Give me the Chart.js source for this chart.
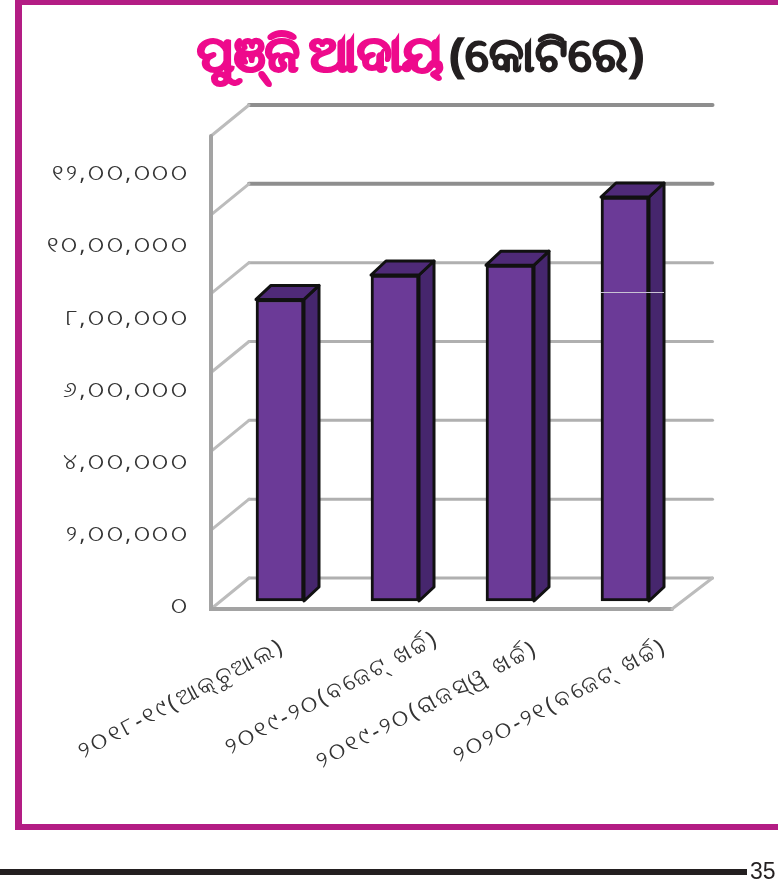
<!DOCTYPE html>
<html>
<head>
<meta charset="utf-8">
<title>ପୁଞ୍ଜି ଆଦାୟ</title>
<script src="https://cdn.jsdelivr.net/npm/chart.js@4"></script>
<style>
html, body { margin: 0; padding: 0; background: #fff; overflow: hidden; }
#page { position: relative; width: 778px; height: 879px; overflow: hidden; font-family: "Noto Sans", "DejaVu Sans", sans-serif; }
#frame { position: absolute; left: 15px; top: -2px; width: 800px; height: 819px; border: 7px solid #b31d84; border-bottom-width: 6px; box-sizing: content-box; }
#title { position: absolute; left: 197px; top: 20px; text-align: left; font-size: 47px; font-weight: 700; line-height: 64px; white-space: nowrap; color: #231f20; word-spacing: -6px; -webkit-text-stroke: 1.4px #231f20; }
#title b { color: #ee0a8c; font-size: 50px; -webkit-text-stroke: 2.6px #ee0a8c; word-spacing: -4px; }
#rule { position: absolute; left: 0; top: 869px; width: 747px; height: 6px; background: #231f20; }
#pageno { position: absolute; left: 750px; top: 858px; font: 23px "Liberation Sans", sans-serif; color: #231f20; }
canvas { position: absolute; left: 0; top: 0; }
</style>
</head>
<body>
<div id="page">
  <div id="frame"></div>
  <canvas id="capitalChart" width="778" height="879"></canvas>
  <div id="title"><b>ପୁଞ୍ଜି ଆଦାୟ</b> (କୋଟିରେ)</div>
  <div id="rule"></div>
  <div id="pageno">35</div>
</div>
<script>
const categories = ['୨୦୧୮-୧୯(ଆକ୍ଚୁଆଲ)', '୨୦୧୯-୨୦(ବଜେଟ୍ ଖର୍ଚ୍ଚ)', '୨୦୧୯-୨୦(ରାଜସ୍ୱ ଖର୍ଚ୍ଚ)', '୨୦୨୦-୨୧(ବଜେଟ୍ ଖର୍ଚ୍ଚ)'];
const receipts = [765000, 827000, 852000, 1025000];
const tickValues = [0, 200000, 400000, 600000, 800000, 1000000, 1200000];
const tickLabels = ['୦', '୨,୦୦,୦୦୦', '୪,୦୦,୦୦୦', '୬,୦୦,୦୦୦', '୮,୦୦,୦୦୦', '୧୦,୦୦,୦୦୦', '୧୨,୦୦,୦୦୦'];
// the rotated labels in the print are not anchored evenly under their bars
const labelNudgeX = [3, 42, 26, 40];
const labelNudgeY = [-5, -13, -3, -5];
// thin light scratch across the last bar in the print
const seamValue = 784000;

// fake 3D: walls and bar depth are offset from the real scale positions
const depth3d = {
    id: 'depth3d',
    beforeDraw(chart) {
        chart.ctx.letterSpacing = '2.6px';
        const items = chart.scales.x.getLabelItems();
        items.forEach((item, i) => {
            if (item.nudged) return;
            item.options.translation[0] += labelNudgeX[i];
            item.options.translation[1] += labelNudgeY[i];
            item.nudged = true;
        });
    },
    beforeDatasetsDraw(chart) {
        const { ctx, chartArea, scales } = chart;
        const y = scales.y;
        const fx = chartArea.left - 11.5, bx = chartArea.left + 26.5;
        const fr = chartArea.right - 10.5, br = chartArea.right + 30;
        const base = y.getPixelForValue(0);
        ctx.save();
        ctx.lineCap = 'round';
        tickValues.forEach((v, i) => {
            const py = y.getPixelForValue(v);
            ctx.strokeStyle = i >= 5 ? '#8e8e8e' : '#b0b0b0';
            ctx.lineWidth = i >= 5 ? 4 : 3;
            ctx.beginPath();
            ctx.moveTo(bx, py - 23);
            ctx.lineTo(br, py - 23);
            ctx.stroke();
            ctx.strokeStyle = '#bcbcbc';
            ctx.lineWidth = 3;
            ctx.beginPath();
            ctx.moveTo(fx, py + 8);
            ctx.lineTo(bx, py - 23);
            ctx.stroke();
        });
        ctx.strokeStyle = '#a3a3a3';
        ctx.lineWidth = 4;
        ctx.beginPath();
        ctx.moveTo(fx, y.getPixelForValue(1200000) + 8);
        ctx.lineTo(fx, base + 8);
        ctx.lineTo(fr, base + 8);
        ctx.stroke();
        ctx.strokeStyle = '#bcbcbc';
        ctx.lineWidth = 3;
        ctx.beginPath();
        ctx.moveTo(fr, base + 8);
        ctx.lineTo(br, base - 23);
        ctx.stroke();

        chart.getDatasetMeta(0).data.forEach(bar => {
            const { x, y: top, base: bottom, width } = bar.getProps(['x', 'y', 'base', 'width'], true);
            const r = x + width / 2, l = x - width / 2;
            ctx.strokeStyle = '#111';
            ctx.lineWidth = 3;
            ctx.lineJoin = 'round';
            ctx.fillStyle = '#46266d';
            ctx.beginPath();
            ctx.moveTo(r, top);
            ctx.lineTo(r + 15, top - 14);
            ctx.lineTo(r + 15, bottom - 14);
            ctx.lineTo(r, bottom);
            ctx.closePath();
            ctx.fill();
            ctx.stroke();
            ctx.fillStyle = '#4f2a78';
            ctx.beginPath();
            ctx.moveTo(l, top);
            ctx.lineTo(l + 15, top - 14);
            ctx.lineTo(r + 15, top - 14);
            ctx.lineTo(r, top);
            ctx.closePath();
            ctx.fill();
            ctx.stroke();
        });
        ctx.restore();
    },
    afterDatasetsDraw(chart) {
        const { ctx, scales } = chart;
        const bars = chart.getDatasetMeta(0).data;
        const last = bars[bars.length - 1];
        const py = Math.round(scales.y.getPixelForValue(seamValue)) + 0.5;
        ctx.save();
        ctx.strokeStyle = '#c9c2d4';
        ctx.lineWidth = 1;
        ctx.beginPath();
        ctx.moveTo(last.x - last.width / 2, py);
        ctx.lineTo(last.x + last.width / 2 + 15, py);
        ctx.stroke();
        ctx.restore();
    }
};

new Chart(document.getElementById('capitalChart'), {
    type: 'bar',
    data: {
        labels: categories,
        datasets: [{
            data: receipts,
            yAxisID: 'y',
            backgroundColor: '#6b3a97',
            borderColor: '#111',
            borderWidth: 3,
            borderSkipped: false,
            barThickness: 48
        }]
    },
    plugins: [depth3d],
    options: {
        responsive: false,
        animation: false,
        layout: { padding: { top: 100, right: 95.5, bottom: 0, left: 0 } },
        plugins: { legend: { display: false }, tooltip: { enabled: false } },
        scales: {
            x: {
                afterFit(scale) { scale.height = 269; },
                grid: { display: false, drawTicks: false },
                border: { display: false },
                ticks: {
                    color: '#333',
                    font: { size: 23, family: '"Noto Sans", "DejaVu Sans", sans-serif' },
                    minRotation: 28,
                    maxRotation: 28,
                    padding: 28,
                    autoSkip: false
                }
            },
            // bars: 473px for 12 lakh, zero 9px above the chart area bottom
            y: { display: false, min: -22833, max: 1271036 },
            // the printed labels do not line up with the gridlines, so they get their own axis
            yLabels: {
                position: 'left',
                min: -8314,
                max: 1405081,
                afterFit(scale) { scale.width = 222.5; },
                afterBuildTicks(scale) { scale.ticks = tickValues.map(value => ({ value })); },
                grid: { display: false, drawTicks: false },
                border: { display: false },
                ticks: {
                    color: '#333',
                    font: { size: 22, family: '"Noto Sans", "DejaVu Sans", sans-serif' },
                    padding: 33,
                    callback: (value) => tickLabels[tickValues.indexOf(value)]
                }
            }
        }
    }
});
</script>
</body>
</html>
